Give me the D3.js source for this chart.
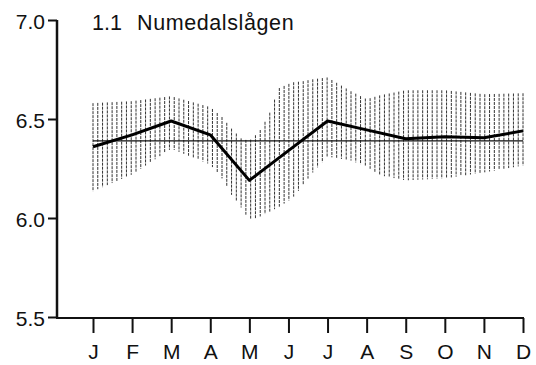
<!DOCTYPE html>
<html><head><meta charset="utf-8">
<script src="https://cdn.jsdelivr.net/npm/d3@7"></script>
<style>body{margin:0;background:#fff}svg{display:block}text{font-family:"Liberation Sans",Arial,sans-serif;fill:#111}</style>
</head><body><svg id="c" width="536" height="365"></svg>
<script>
const months = ["J","F","M","A","M","J","J","A","S","O","N","D"];
const meanValues = [6.36,6.42,6.49,6.42,6.19,6.34,6.49,6.445,6.40,6.41,6.405,6.44];
const refValue = 6.39;
const bandPos   = [0,1,2,3,3.3,3.55,3.8,4,4.25,4.5,4.75,5.1,5.35,5.6,6,6.6,7,7.35,8,9,10,11];
const bandUpper = [6.58,6.59,6.615,6.56,6.51,6.45,6.40,6.39,6.435,6.52,6.655,6.685,6.69,6.70,6.71,6.64,6.60,6.62,6.645,6.645,6.625,6.63];
const bandLower = [6.135,6.22,6.35,6.27,6.20,6.115,6.05,5.99,6.005,6.03,6.055,6.10,6.16,6.225,6.31,6.29,6.26,6.215,6.19,6.20,6.23,6.265];
const yTicks = [5.5,6.0,6.5,7.0];
const titleNum = "1.1";
const titleName = "Numedalslågen";

const svg = d3.select("#c");
const x = d3.scaleLinear().domain([0,11]).range([93,523]);
const y = d3.scaleLinear().domain([5.5,7.0]).range([317,20]);
const upAt = d3.scaleLinear().domain(bandPos).range(bandUpper);
const loAt = d3.scaleLinear().domain(bandPos).range(bandLower);

// hatched band
const hatch = d3.range(0, 11.0001, 11/90);
svg.append("g").selectAll("line").data(hatch).join("line")
  .attr("x1", d=>x(d)).attr("x2", d=>x(d))
  .attr("y1", d=>y(upAt(d))).attr("y2", d=>y(loAt(d)))
  .attr("stroke","#333").attr("stroke-width",1).attr("stroke-dasharray","3,1");

// reference line
svg.append("line").attr("x1",x(0)).attr("x2",x(11)).attr("y1",y(refValue)).attr("y2",y(refValue))
  .attr("stroke","#111").attr("stroke-width",1.3);

// mean line
svg.append("path").datum(meanValues)
  .attr("d", d3.line().x((d,i)=>x(i)).y(d=>y(d)))
  .attr("fill","none").attr("stroke","#000").attr("stroke-width",3).attr("stroke-linejoin","round");

// y axis
const yAxis = d3.axisLeft(y).tickValues(yTicks).tickFormat(d3.format(".1f")).tickSize(9).tickPadding(3);
const gy = svg.append("g").attr("transform","translate(57,0)").call(yAxis);
gy.select(".domain").attr("d", `M0,${y(7.0)}V${y(5.5)+1}`).attr("stroke","#111").attr("stroke-width",2.5);
gy.selectAll(".tick line").attr("stroke","#111").attr("stroke-width",2);
gy.selectAll(".tick text").attr("font-size",21).attr("dy","0.4em").style("font-family","Liberation Sans, Arial, sans-serif");

// x axis
const xAxis = d3.axisBottom(x).tickValues(d3.range(12)).tickFormat(i=>months[i]).tickSize(15).tickPadding(11);
const gx = svg.append("g").attr("transform","translate(0,318)").call(xAxis);
gx.select(".domain").attr("d", `M56,0H${x(11)+1}`).attr("stroke","#111").attr("stroke-width",2);
gx.selectAll(".tick line").attr("stroke","#111").attr("stroke-width",2);
gx.selectAll(".tick text").attr("font-size",21).style("font-family","Liberation Sans, Arial, sans-serif");

// title
const t = svg.append("text").attr("y",30).attr("font-size",21.5);
t.append("tspan").attr("x",92).text(titleNum);
t.append("tspan").attr("x",137).attr("letter-spacing",0.6).text(titleName);
</script></body></html>
